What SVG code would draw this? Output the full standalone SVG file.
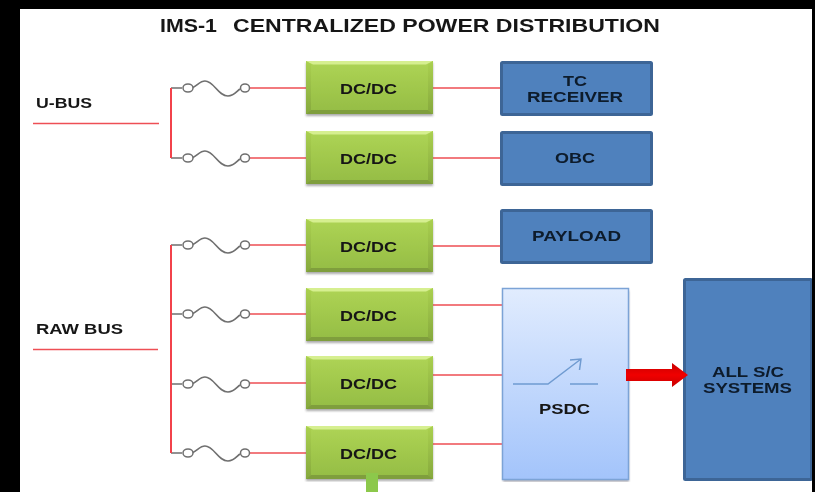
<svg xmlns="http://www.w3.org/2000/svg" width="815" height="492" viewBox="0 0 815 492">
<style>
text{font-family:"Liberation Sans",Arial,sans-serif;font-weight:bold;fill:#161616;font-size:15px}
.t{font-size:18px}
.n{fill:#0e1a2c}
.w{stroke:#ee4f55;stroke-width:1.6;fill:none}
.v{stroke:#f2434b;stroke-width:2;fill:none}
.f{stroke:#6f6f6f;stroke-width:1.6;fill:none}
.c{stroke:#6f6f6f;stroke-width:1.5;fill:#fff}
.blue{fill:#4f81bd;stroke:#3c6596;stroke-width:3}
</style>
<defs>
<filter id="soft" x="0" y="0" width="100%" height="100%" filterUnits="objectBoundingBox"><feGaussianBlur stdDeviation="0.45"/></filter>
<filter id="sh" x="-5%" y="-5%" width="110%" height="115%"><feGaussianBlur stdDeviation="1"/></filter>
<linearGradient id="g" x1="0" y1="0" x2="0" y2="1"><stop offset="0" stop-color="#aed455"/><stop offset="1" stop-color="#94bc44"/></linearGradient>
<linearGradient id="s" x1="0" y1="0" x2="0" y2="1"><stop offset="0" stop-color="#aad050"/><stop offset="1" stop-color="#86a93d"/></linearGradient>
<linearGradient id="p" x1="0" y1="0" x2="0" y2="1"><stop offset="0" stop-color="#e1ecfe"/><stop offset="1" stop-color="#a3c4fb"/></linearGradient>
<linearGradient id="r" x1="0" y1="0" x2="0" y2="1"><stop offset="0" stop-color="#c90000"/><stop offset=".5" stop-color="#f00000"/><stop offset="1" stop-color="#c90000"/></linearGradient>
<g id="fuse">
<path class="f" d="M0 0H11M21 0C27 -3 29 -7 34 -7C43 -7 47 8 57 8C63 8 66 3 69 1"/>
<ellipse class="c" cx="17" cy="0" rx="5" ry="4"/><ellipse class="c" cx="74" cy="0" rx="4.500" ry="4"/>
</g>
<g id="dc">
<rect x="0" y="2" width="127" height="53" fill="#555" opacity=".5" filter="url(#sh)"/>
<rect width="127" height="53" fill="url(#g)"/>
<path d="M0 0H127L120 3.500H7Z" fill="#d6ef90"/>
<path d="M0 0L5 3.500V49L0 53Z" fill="url(#s)"/>
<path d="M127 0L122 3.500V49L127 53Z" fill="url(#s)"/>
<path d="M0 53L5 49H122L127 53Z" fill="#7f9e3d"/>
<text x="34" y="32.500" textLength="57" lengthAdjust="spacingAndGlyphs">DC/DC</text>
</g>
</defs>
<rect width="815" height="492" fill="#000"/>
<rect x="20" y="9" width="792" height="483" fill="#fff"/>
<g filter="url(#soft)">
<g id="title">
<text class="t" x="160" y="31.500" textLength="57" lengthAdjust="spacingAndGlyphs">IMS-1</text>
<text class="t" x="233" y="31.500" textLength="427" lengthAdjust="spacingAndGlyphs">CENTRALIZED POWER DISTRIBUTION</text>
</g>
<g id="connectors">
<path class="w" d="M33 123.500H159M33 349.500H158"/>
<path class="w" d="M249 88H307M249 158H307M249 245H307M249 314H307M249 383H307M249 453H307"/>
<path class="w" d="M433 88H502M433 158H502M433 246H502M433 305H502M433 375H502M433 444H502"/>
</g>
<g id="fuses">
<use href="#fuse" x="171" y="88"/><use href="#fuse" x="171" y="158"/>
<use href="#fuse" x="171" y="245"/><use href="#fuse" x="171" y="314"/>
<use href="#fuse" x="171" y="384"/><use href="#fuse" x="171" y="453"/>
</g>
<path id="rails" class="v" d="M171 88V158M171 245V453"/>
<g id="dc1"><use href="#dc" x="306" y="61"/></g>
<g id="dc2"><use href="#dc" x="306" y="131"/></g>
<g id="dc3"><use href="#dc" x="306" y="219"/></g>
<g id="dc4"><use href="#dc" x="306" y="288"/></g>
<g id="dc5"><use href="#dc" x="306" y="356"/></g>
<g id="dc6"><use href="#dc" x="306" y="426"/></g>
<g id="u-bus"><text x="36" y="107.500" textLength="56" lengthAdjust="spacingAndGlyphs">U-BUS</text></g>
<g id="raw-bus"><text x="36" y="333.500" textLength="87" lengthAdjust="spacingAndGlyphs">RAW BUS</text></g>
<g id="tc"><rect class="blue" x="501.500" y="62.500" width="150" height="52" rx="1"/><text class="n" x="563" y="86" textLength="24" lengthAdjust="spacingAndGlyphs">TC</text><text class="n" x="527" y="102" textLength="96" lengthAdjust="spacingAndGlyphs">RECEIVER</text></g>
<g id="obc"><rect class="blue" x="501.500" y="132.500" width="150" height="52" rx="1"/><text class="n" x="555" y="163" textLength="40" lengthAdjust="spacingAndGlyphs">OBC</text></g>
<g id="payload"><rect class="blue" x="501.500" y="210.500" width="150" height="52" rx="1"/><text class="n" x="532" y="241" textLength="89" lengthAdjust="spacingAndGlyphs">PAYLOAD</text></g>
<g id="psdc">
<rect x="503" y="291" width="126" height="191" fill="#667" opacity=".5" filter="url(#sh)"/>
<rect x="502.500" y="288.500" width="126" height="191" fill="url(#p)" stroke="#7ba3d6" stroke-width="1.500"/>
<path d="M513 384H548L581 359M570 360L581 359L579.500 370M570 384H598" fill="none" stroke="#6f9bd1" stroke-width="1.500"/>
<text x="539" y="414" textLength="51" lengthAdjust="spacingAndGlyphs">PSDC</text>
</g>
<g id="all"><rect class="blue" x="684.500" y="279.500" width="127" height="200" rx="1"/><text class="n" x="712" y="377" textLength="72" lengthAdjust="spacingAndGlyphs">ALL S/C</text><text class="n" x="703" y="393" textLength="89" lengthAdjust="spacingAndGlyphs">SYSTEMS</text></g>
<path id="arrow" d="M626 369H672V363L688 375L672 387V381H626Z" fill="url(#r)"/>
</g>
<rect id="stub" x="366" y="473" width="12" height="19" fill="#8cc84b"/>
</svg>
